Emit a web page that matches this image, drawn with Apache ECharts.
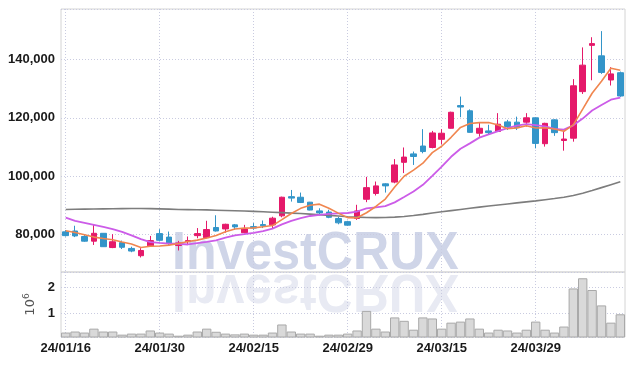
<!DOCTYPE html>
<html>
<head>
<meta charset="utf-8">
<script src="https://cdn.jsdelivr.net/npm/echarts@6/dist/echarts.min.js"></script>
<style>
  html, body { margin: 0; padding: 0; background: #fff; }
  #chart { width: 634px; height: 366px; }
</style>
</head>
<body>
<div id="chart"></div>
<script>
// 거래일
var dates = [
  '24/01/16','24/01/17','24/01/18','24/01/19','24/01/22','24/01/23','24/01/24','24/01/25','24/01/26','24/01/29',
  '24/01/30','24/01/31','24/02/01','24/02/02','24/02/05','24/02/06','24/02/07','24/02/08','24/02/13','24/02/14',
  '24/02/15','24/02/16','24/02/19','24/02/20','24/02/21','24/02/22','24/02/23','24/02/26','24/02/27','24/02/28',
  '24/02/29','24/03/04','24/03/05','24/03/06','24/03/07','24/03/08','24/03/11','24/03/12','24/03/13','24/03/14',
  '24/03/15','24/03/18','24/03/19','24/03/20','24/03/21','24/03/22','24/03/25','24/03/26','24/03/27','24/03/28',
  '24/03/29','24/04/01','24/04/02','24/04/03','24/04/04','24/04/05','24/04/08','24/04/09','24/04/11','24/04/12'
];

// [open, close, low, high]
var candles = [
  [80800, 79500, 79200, 81400], [81100, 79400, 79000, 82900], [79200, 77600, 77400, 80000], [77600, 80300, 76300, 83300],
  [80300, 75700, 75600, 80400], [75400, 77400, 75200, 80000], [77100, 75500, 74900, 77800], [75100, 74200, 73800, 75700],
  [72600, 74400, 72000, 75200], [76000, 77800, 75700, 79400], [80200, 77900, 77500, 81700], [79000, 76900, 76300, 80900],
  [76100, 77000, 74400, 77700], [77400, 77800, 76300, 79200], [79500, 80200, 78600, 82100], [78800, 81600, 78600, 84600],
  [82300, 81100, 80900, 86500], [81800, 83400, 80500, 83600], [83200, 82500, 81500, 83500], [80500, 81800, 80300, 83200],
  [82600, 82100, 81500, 83800], [83300, 82900, 82100, 84700], [83200, 85500, 82100, 86000], [86300, 92700, 85800, 92900],
  [92900, 92400, 91200, 95200], [92700, 90900, 90700, 94300], [91000, 88300, 88200, 91100], [88000, 87300, 86500, 88900],
  [87600, 85800, 85500, 88400], [85400, 83900, 83400, 86000], [84300, 83100, 82900, 84600], [85400, 88000, 84900, 90100],
  [92000, 96000, 91000, 99700], [94000, 96600, 93300, 98100], [97300, 96600, 94300, 97500], [97900, 103800, 97500, 105800],
  [104700, 106500, 101000, 109800], [107600, 106700, 103800, 108400], [110300, 108400, 107800, 116100], [109800, 114800, 109500, 115500],
  [112600, 114700, 110900, 116100], [116400, 121900, 116300, 122100], [124200, 123700, 120200, 127300], [122400, 115000, 114900, 122900],
  [114700, 116400, 113500, 118300], [115500, 114900, 114100, 117600], [115300, 117800, 115200, 121600], [118600, 117000, 115800, 119300],
  [118500, 116600, 115800, 120400], [118500, 120000, 117000, 121600], [120000, 111200, 109500, 120100], [111100, 118100, 110100, 118300],
  [119300, 114900, 113800, 119500], [112200, 112700, 108700, 115500], [113000, 131000, 111800, 133300], [129000, 138100, 128200, 144200],
  [144900, 145500, 132900, 147700], [141300, 135600, 135100, 149800], [133000, 135100, 131100, 137400], [135500, 127500, 127200, 135900]
];

// 이동평균선
var ma5 = [
  81200, 80600, 79800, 79000, 78500, 78080, 77300, 76620, 75440, 75860,
  75960, 76240, 76800, 77480, 77960, 78700, 79540, 80820, 81760, 82080,
  82180, 82540, 82960, 85000, 87120, 88880, 89960, 90320, 88940, 87240,
  85680, 85620, 87360, 89520, 92060, 96200, 99900, 102040, 104400, 108040,
  110220, 113300, 116700, 118020, 118340, 118380, 117560, 116220, 116540, 117260,
  116520, 116580, 116160, 115380, 117580, 122960, 128440, 132580, 137060, 136360
];
var ma10 = [
  85700, 84600, 83900, 83200, 82500, 81700, 80800, 79600, 78300, 77300,
  77020, 76770, 76710, 76460, 76910, 77330, 77890, 78810, 79620, 80020,
  80440, 81040, 81890, 83380, 84600, 85530, 86250, 86640, 86970, 87180,
  87280, 87790, 88840, 89230, 89650, 90940, 92760, 94700, 96960, 100050,
  103210, 106600, 109370, 111210, 113190, 114300, 115430, 116460, 117280, 117800,
  117450, 117070, 116190, 115960, 117420, 119740, 122510, 124370, 126220, 126970
];
var maLong = [
  88500, 88550, 88600, 88650, 88700, 88750, 88800, 88850, 88850, 88800,
  88700, 88600, 88500, 88450, 88400, 88350, 88250, 88150, 88050, 87950,
  87850, 87700, 87550, 87400, 87250, 87100, 86900, 86700, 86450, 86250,
  86000, 85850, 85750, 85700, 85750, 85850, 86100, 86400, 86800, 87300,
  87700, 88100, 88500, 88900, 89300, 89700, 90050, 90400, 90750, 91100,
  91450, 91850, 92250, 92700, 93300, 94100, 95000, 96000, 97000, 98000
];

// 거래량
var volumes = [
  270000, 310000, 270000, 420000, 310000, 310000, 190000, 230000, 230000, 350000,
  270000, 230000, 150000, 190000, 310000, 420000, 300000, 230000, 200000, 230000,
  190000, 190000, 270000, 580000, 310000, 230000, 230000, 150000, 190000, 190000,
  230000, 350000, 1100000, 420000, 310000, 850000, 720000, 380000, 850000, 810000,
  420000, 650000, 690000, 810000, 420000, 270000, 380000, 350000, 270000, 380000,
  690000, 380000, 270000, 500000, 1960000, 2350000, 1900000, 1310000, 650000, 970000
];

var labelFont = "'Liberation Sans', Arial, sans-serif";
var gridLine = { show: true, interval: 9, alignWithLabel: true, lineStyle: { color: '#c9cbe0', type: [1, 2] } };
var hLine = { show: true, lineStyle: { color: '#c9cbe0', type: [1, 2] } };

var chart = echarts.init(document.getElementById('chart'));

var option = {
  animation: false,
  graphic: [
    {
      type: 'text', left: 172, top: 228, z: 0, scaleX: 0.945,
      style: { text: 'InvestCRUX', font: "bold 53px 'Liberation Sans', sans-serif", fill: '#cfd5e8' }
    },
    {
      type: 'text', x: 172, y: 316, z: 0, scaleX: 0.945, scaleY: -1,
      style: { text: 'InvestCRUX', font: "bold 53px 'Liberation Sans', sans-serif", fill: '#e8eaf3' }
    }
  ],
  grid: [
    { left: 61, right: 9, top: 9, height: 263, show: true, borderColor: '#d4d4d4', backgroundColor: 'transparent',
      containLabel: false, outerBoundsMode: 'none' },
    { left: 61, right: 9, top: 272, height: 65, show: true, borderColor: '#d4d4d4', backgroundColor: 'transparent',
      containLabel: false, outerBoundsMode: 'none' }
  ],
  xAxis: [
    {
      type: 'category', gridIndex: 0, data: dates, boundaryGap: true,
      axisLine: { show: false }, axisTick: { show: false }, axisLabel: { show: false },
      splitLine: gridLine
    },
    {
      type: 'category', gridIndex: 1, data: dates, boundaryGap: true,
      axisLine: { show: false }, axisTick: { show: false },
      axisLabel: { interval: 9, margin: 5, color: '#1a1a1a', fontFamily: labelFont, fontWeight: 'bold', fontSize: 13 },
      splitLine: gridLine
    }
  ],
  yAxis: [
    {
      type: 'value', gridIndex: 0, min: 67000, max: 157400, scale: true,
      axisLine: { show: false }, axisTick: { show: false },
      axisLabel: {
        margin: 6, color: '#1a1a1a', fontFamily: labelFont, fontWeight: 'bold', fontSize: 13,
        showMinLabel: false, showMaxLabel: false,
        formatter: function (v) { return v.toLocaleString('en-US'); }
      },
      splitLine: hLine
    },
    {
      type: 'value', gridIndex: 1, min: 100000, max: 2590000, splitNumber: 2,
      axisLine: { show: false }, axisTick: { show: false },
      axisLabel: {
        margin: 6, color: '#1a1a1a', fontFamily: labelFont, fontWeight: 'bold', fontSize: 13,
        showMinLabel: false, showMaxLabel: false,
        formatter: function (v) { return v / 1000000; }
      },
      splitLine: hLine,
      name: '{a|10}{b|6}', nameLocation: 'middle', nameGap: 19, nameRotate: 90,
      nameTextStyle: {
        rich: {
          a: { fontSize: 13, color: '#555', fontFamily: 'DejaVu Sans' },
          b: { fontSize: 9, color: '#555', fontFamily: 'DejaVu Sans', padding: [0, 0, 8, 0] }
        }
      }
    }
  ],
  series: [
    {
      name: 'candle', type: 'candlestick', xAxisIndex: 0, yAxisIndex: 0, data: candles,
      barWidth: '66%',
      itemStyle: { color: '#e5196a', color0: '#3395c9', borderColor: '#e5196a', borderColor0: '#3395c9', borderWidth: 1 }
    },
    { name: 'MA120', type: 'line', data: maLong, symbol: 'none', lineStyle: { color: '#7d7d7d', width: 1.6 } },
    { name: 'MA10', type: 'line', data: ma10, symbol: 'none', lineStyle: { color: '#cc5ce8', width: 1.8 } },
    { name: 'MA5', type: 'line', data: ma5, symbol: 'none', lineStyle: { color: '#f0864f', width: 1.6 } },
    {
      name: 'volume', type: 'bar', xAxisIndex: 1, yAxisIndex: 1, data: volumes,
      barCategoryGap: '0%',
      itemStyle: { color: '#d9d9d9', borderColor: '#a9a9a9', borderWidth: 1 }
    }
  ]
};

chart.setOption(option);
</script>
</body>
</html>
